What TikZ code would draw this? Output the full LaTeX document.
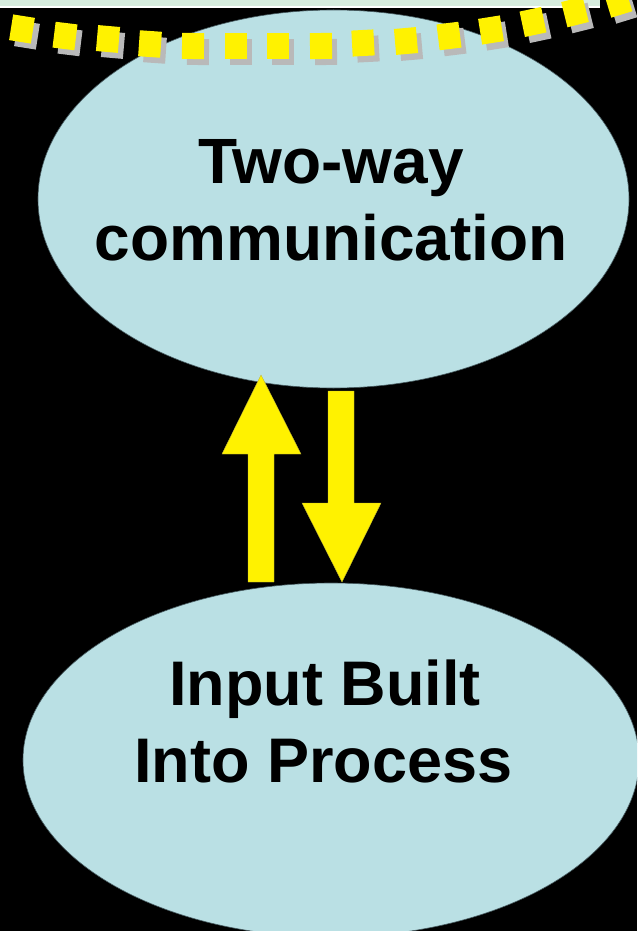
\documentclass[tikz,border=0pt]{standalone}
\usepackage{fontspec}
\setmainfont{Liberation Sans}
\usetikzlibrary{shapes.geometric}
\definecolor{bubble}{RGB}{186,224,228}
\definecolor{bubbleedge}{RGB}{70,90,95}
\definecolor{strip}{RGB}{214,236,222}
\definecolor{shade}{RGB}{185,185,185}
\begin{document}
\begin{tikzpicture}[x=1pt,y=-1pt,
  bubblestyle/.style={ellipse, fill=bubble, draw=bubbleedge, line width=0.6pt, inner sep=0pt},
  bigtext/.style={anchor=base, font=\bfseries\fontsize{64}{77}\selectfont, text=black, inner sep=0pt},
  midtext/.style={anchor=base, font=\bfseries\fontsize{63}{77}\selectfont, text=black, inner sep=0pt},
  dotbox/.style={rectangle, fill=yellow, minimum width=22pt, minimum height=26pt, inner sep=0pt},
  dotshade/.style={rectangle, fill=shade, minimum width=22pt, minimum height=26pt, inner sep=0pt},
  blockarrow/.style={fill=yellow, draw=yellow!70!black, line width=0.4pt, line join=miter}]
\fill[black] (0,0) rectangle (637,931);
\useasboundingbox (0,0) rectangle (637,931);
\clip (0,0) rectangle (637,931);
% top strip
\fill[strip] (0,0) rectangle (600,6);
\fill[white] (0,6) rectangle (600,8);
% ellipses
\node[bubblestyle, minimum width=591pt, minimum height=378pt] (top) at (333.5,199) {};
\node[bubblestyle, minimum width=616pt, minimum height=354pt] (bot) at (331,760) {};
% dotted arc
\foreach \x/\y/\a in {22/29/9, 65/36/7, 108/39/5, 150/44/4, 193/46/1, 236/46/0, 278/46/0, 321/46/-1, 363/43/-3, 406/41/-5, 449/36/-7, 491/30/-9, 533/22/-12, 575/12/-14, 618/2/-17}{
  \node[dotshade, rotate=-\a] at (\x+5,\y+6) {};
}
\foreach \x/\y/\a in {22/29/9, 65/36/7, 108/39/5, 150/44/4, 193/46/1, 236/46/0, 278/46/0, 321/46/-1, 363/43/-3, 406/41/-5, 449/36/-7, 491/30/-9, 533/22/-12, 575/12/-14, 618/2/-17}{
  \node[dotbox, rotate=-\a] at (\x,\y) {};
}
% texts
\node[bigtext] (t1) at (331,183) {Two-way};
\node[bigtext] (t2) at (331,260) {communication};
\node[midtext] (b1) at (325,705) {Input Built};
\node[midtext] (b2) at (323.5,782) {Into Process};
% arrows
\coordinate (upTip) at (261,375);
\coordinate (downTip) at (342,582);
\fill[blockarrow] (248,582) -- (248,454) -- (222,454) -- (upTip) -- (301,454) -- (274,454) -- (274,582) -- cycle;
\fill[blockarrow] (328,391) -- (354,391) -- (354,503) -- (381,503) -- (downTip) -- (302,503) -- (328,503) -- cycle;
\end{tikzpicture}
\end{document}
